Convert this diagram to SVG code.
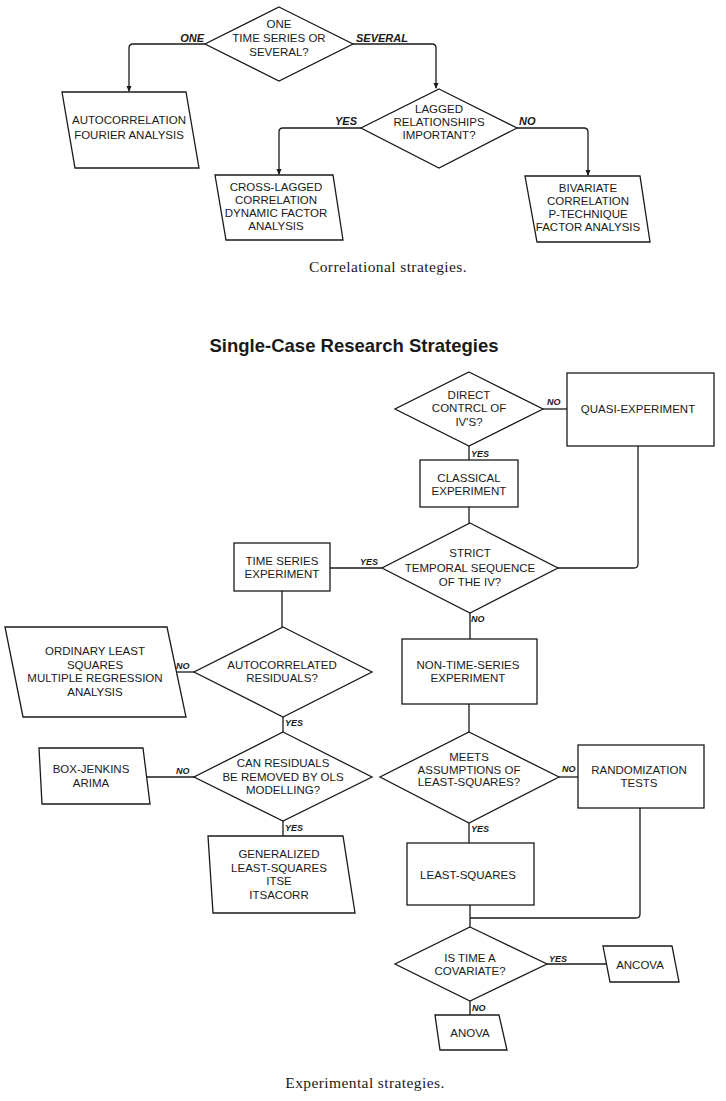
<svg xmlns="http://www.w3.org/2000/svg" width="726" height="1101" viewBox="0 0 726 1101">
<defs>
<style>
.s{fill:#fff;stroke:#1a1a1a;stroke-width:1.3;stroke-linejoin:miter}
.c{fill:none;stroke:#1a1a1a;stroke-width:1.3}
.t{font-family:"Liberation Sans",Arial,sans-serif;font-size:11.5px;fill:#1a1a1a;text-anchor:middle}
.lt{font-family:"Liberation Sans",Arial,sans-serif;font-size:11px;font-weight:bold;font-style:italic;fill:#1a1a1a}
.ls{font-family:"Liberation Sans",Arial,sans-serif;font-size:9px;font-weight:bold;font-style:italic;fill:#1a1a1a}
.cap{font-family:"Liberation Serif","Times New Roman",serif;font-size:15.5px;fill:#1a1a1a;text-anchor:middle;letter-spacing:0.4px}
.ttl{font-family:"Liberation Sans",Arial,sans-serif;font-size:18.5px;font-weight:bold;fill:#1a1a1a;text-anchor:middle}
</style>
</defs>
<rect width="726" height="1101" fill="#fff"/>

<g id="connectors">
<path class="c" d="M205,44 H133 Q129,44 129,48 V91"/>
<path class="c" d="M353,44 H432 Q436,44 436,48 V88"/>
<path class="c" d="M361,128 H283 Q279,128 279,132 V174"/>
<path class="c" d="M517,128 H584 Q588,128 588,132 V175"/>
<path fill="#1a1a1a" d="M126.5,86 L131.5,86 L129,92 Z M433.5,83 L438.5,83 L436,89 Z M276.5,169 L281.5,169 L279,175 Z M585.5,170 L590.5,170 L588,176 Z"/>

<path class="c" d="M543,409 H567"/>
<path class="c" d="M469,446 V460"/>
<path class="c" d="M469,507 V523"/>
<path class="c" d="M638,446 V564 Q638,568 634,568 H558"/>
<path class="c" d="M382,568 H330"/>
<path class="c" d="M470,613 V639"/>
<path class="c" d="M282,591 V627"/>
<path class="c" d="M194,672 H177"/>
<path class="c" d="M283,717 V732"/>
<path class="c" d="M194,777 H147"/>
<path class="c" d="M283,821 V836"/>
<path class="c" d="M469,704 V732"/>
<path class="c" d="M559,777 H578"/>
<path class="c" d="M469,823 V843"/>
<path class="c" d="M470,905 V927"/>
<path class="c" d="M640,808 V914 Q640,918 636,918 H470"/>
<path class="c" d="M547,964 H606"/>
<path class="c" d="M470,1001 V1015"/>

<text class="lt" x="204" y="42" text-anchor="end">ONE</text>
<text class="lt" x="356" y="42">SEVERAL</text>
<text class="lt" x="357" y="125" text-anchor="end">YES</text>
<text class="lt" x="519" y="125">NO</text>

<text class="ls" x="547" y="405">NO</text>
<text class="ls" x="471" y="457">YES</text>
<text class="ls" x="378" y="565" text-anchor="end">YES</text>
<text class="ls" x="471" y="622">NO</text>
<text class="ls" x="176" y="669">NO</text>
<text class="ls" x="285" y="726">YES</text>
<text class="ls" x="176" y="774">NO</text>
<text class="ls" x="285" y="831">YES</text>
<text class="ls" x="562" y="772">NO</text>
<text class="ls" x="471" y="832">YES</text>
<text class="ls" x="549" y="962">YES</text>
<text class="ls" x="472" y="1011">NO</text>
</g>

<g id="n-one-or-several">
<polygon class="s" points="279,7 353,44 279,81 205,44"/>
<text class="t" x="279" y="28">ONE</text>
<text class="t" x="279" y="42">TIME SERIES OR</text>
<text class="t" x="279" y="56">SEVERAL?</text>
</g>
<g id="n-autocorrelation">
<polygon class="s" points="62,92 186,92 199,168 75,168"/>
<text class="t" x="129" y="124">AUTOCORRELATION</text>
<text class="t" x="129" y="139">FOURIER ANALYSIS</text>
</g>
<g id="n-lagged">
<polygon class="s" points="439,89 517,128 439,168 361,128"/>
<text class="t" x="439" y="113">LAGGED</text>
<text class="t" x="439" y="126">RELATIONSHIPS</text>
<text class="t" x="439" y="139">IMPORTANT?</text>
</g>
<g id="n-crosslagged">
<polygon class="s" points="215,175 333,175 343,240 226,240"/>
<text class="t" x="276" y="191">CROSS-LAGGED</text>
<text class="t" x="276" y="204">CORRELATION</text>
<text class="t" x="276" y="217">DYNAMIC FACTOR</text>
<text class="t" x="276" y="230">ANALYSIS</text>
</g>
<g id="n-bivariate">
<polygon class="s" points="525,176 640,176 650,242 537,242"/>
<text class="t" x="588" y="192">BIVARIATE</text>
<text class="t" x="588" y="205">CORRELATION</text>
<text class="t" x="588" y="218">P-TECHNIQUE</text>
<text class="t" x="588" y="231">FACTOR ANALYSIS</text>
</g>
<text class="cap" x="388" y="272">Correlational strategies.</text>

<text class="ttl" x="354" y="352">Single-Case Research Strategies</text>

<g id="n-direct">
<polygon class="s" points="469,372 543,409 469,446 395,409"/>
<text class="t" x="469" y="399">DIRECT</text>
<text class="t" x="469" y="412">CONTRCL OF</text>
<text class="t" x="469" y="426">IV'S?</text>
</g>
<g id="n-quasi">
<rect class="s" x="567" y="373" width="147" height="73"/>
<text class="t" x="638" y="413">QUASI-EXPERIMENT</text>
</g>
<g id="n-classical">
<rect class="s" x="420" y="460" width="98" height="47"/>
<text class="t" x="469" y="482">CLASSICAL</text>
<text class="t" x="469" y="495">EXPERIMENT</text>
</g>
<g id="n-strict">
<polygon class="s" points="470,523 558,568 470,613 382,568"/>
<text class="t" x="470" y="557">STRICT</text>
<text class="t" x="470" y="572">TEMPORAL SEQUENCE</text>
<text class="t" x="470" y="586">OF THE IV?</text>
</g>
<g id="n-timeseries">
<rect class="s" x="234" y="543" width="96" height="48"/>
<text class="t" x="282" y="565">TIME SERIES</text>
<text class="t" x="282" y="578">EXPERIMENT</text>
</g>
<g id="n-nontimeseries">
<rect class="s" x="402" y="639" width="135" height="65"/>
<text class="t" x="468" y="669">NON-TIME-SERIES</text>
<text class="t" x="468" y="682">EXPERIMENT</text>
</g>
<g id="n-autocorrelated">
<polygon class="s" points="283,627 372,672 283,717 194,672"/>
<text class="t" x="282" y="669">AUTOCORRELATED</text>
<text class="t" x="282" y="682">RESIDUALS?</text>
</g>
<g id="n-ordinary">
<polygon class="s" points="5,627 167,627 186,717 23,717"/>
<text class="t" x="95" y="655">ORDINARY LEAST</text>
<text class="t" x="95" y="668.5">SQUARES</text>
<text class="t" x="95" y="682">MULTIPLE REGRESSION</text>
<text class="t" x="95" y="695.5">ANALYSIS</text>
</g>
<g id="n-canresiduals">
<polygon class="s" points="283,732 372,777 283,821 194,777"/>
<text class="t" x="283" y="767">CAN RESIDUALS</text>
<text class="t" x="283" y="780.5">BE REMOVED BY OLS</text>
<text class="t" x="283" y="794">MODELLING?</text>
</g>
<g id="n-boxjenkins">
<polygon class="s" points="39,748 143,748 150,804 42,804"/>
<text class="t" x="91" y="773">BOX-JENKINS</text>
<text class="t" x="91" y="787">ARIMA</text>
</g>
<g id="n-generalized">
<polygon class="s" points="208,836 343,836 355,913 213,913"/>
<text class="t" x="279" y="858">GENERALIZED</text>
<text class="t" x="279" y="871.5">LEAST-SQUARES</text>
<text class="t" x="279" y="885">ITSE</text>
<text class="t" x="279" y="898.5">ITSACORR</text>
</g>
<g id="n-meets">
<polygon class="s" points="469,732 559,777 469,823 380,777"/>
<text class="t" x="469" y="761">MEETS</text>
<text class="t" x="469" y="773.5">ASSUMPTIONS OF</text>
<text class="t" x="469" y="786">LEAST-SQUARES?</text>
</g>
<g id="n-randomization">
<rect class="s" x="578" y="745" width="126" height="63"/>
<text class="t" x="639" y="774">RANDOMIZATION</text>
<text class="t" x="639" y="787">TESTS</text>
</g>
<g id="n-leastsquares">
<rect class="s" x="407" y="843" width="127" height="62"/>
<text class="t" x="468" y="879">LEAST-SQUARES</text>
</g>
<g id="n-istime">
<polygon class="s" points="470,927 547,964 470,1001 395,964"/>
<text class="t" x="470" y="962">IS TIME A</text>
<text class="t" x="470" y="975">COVARIATE?</text>
</g>
<g id="n-ancova">
<polygon class="s" points="603,946 672,946 679,982 610,982"/>
<text class="t" x="640" y="969">ANCOVA</text>
</g>
<g id="n-anova">
<polygon class="s" points="435,1015 499,1015 507,1050 440,1050"/>
<text class="t" x="470" y="1037">ANOVA</text>
</g>
<text class="cap" x="365" y="1088">Experimental strategies.</text>
</svg>
